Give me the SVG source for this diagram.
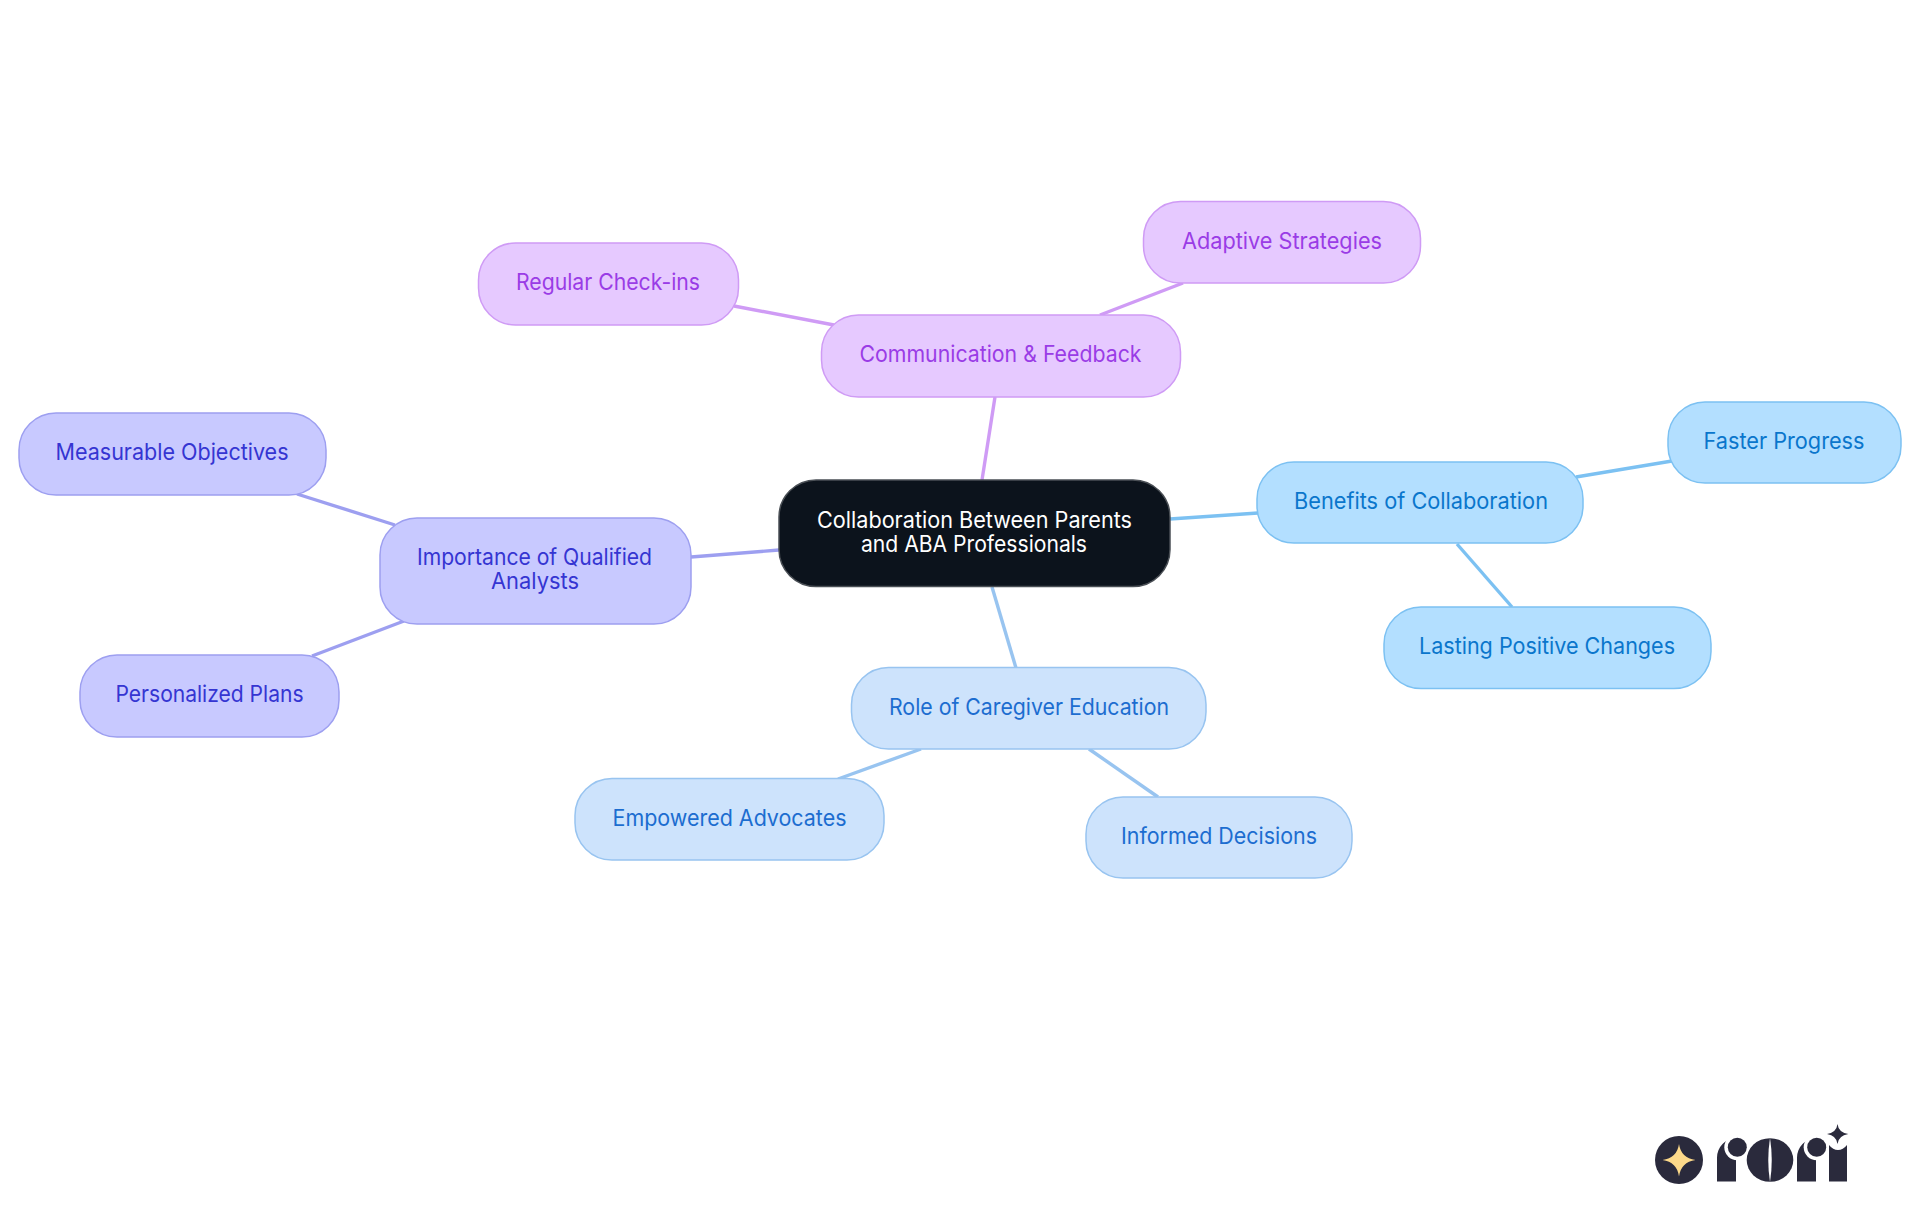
<svg xmlns="http://www.w3.org/2000/svg" width="1920" height="1215" viewBox="0 0 1920 1215">
<style>
text{font-family:"Inter","Noto Sans","Liberation Sans",sans-serif;font-size:22.4px;font-weight:400;text-anchor:middle}
rect{stroke-width:1.5}
#connectors line{stroke-width:3.4;fill:none}
.c rect{fill:#0c131c;stroke:#4a4f55}.c text{fill:#fff}
.p rect{fill:#e6c9ff;stroke:#cf9bf5}.p text{fill:#9a3ce6}
.b rect{fill:#b3dfff;stroke:#7cc1f2}.b text{fill:#0a76cc}
.i rect{fill:#c8c9ff;stroke:#9d9ff0}.i text{fill:#3535d2}
.r rect{fill:#cde3fc;stroke:#98c4f0}.r text{fill:#1c6dd0}
.lp{stroke:#cf9bf5}.lb{stroke:#7cc1f2}.li{stroke:#9d9ff0}.lr{stroke:#98c4f0}
.logo{fill:#2a2a3c}
</style>
<rect width="1920" height="1215" fill="#fff" stroke="none"/>
<g id="connectors">
<line class="lp" x1="982" y1="480" x2="995" y2="397"/>
<line class="lp" x1="1100" y1="315" x2="1183" y2="283"/>
<line class="lp" x1="834" y1="325" x2="734" y2="306"/>
<line class="lb" x1="1170" y1="519" x2="1258" y2="513"/>
<line class="lb" x1="1576" y1="477" x2="1672" y2="461"/>
<line class="lb" x1="1457" y1="544" x2="1512" y2="607"/>
<line class="li" x1="691" y1="557" x2="779" y2="550"/>
<line class="li" x1="395" y1="525" x2="297" y2="494"/>
<line class="li" x1="404" y1="621" x2="312" y2="656"/>
<line class="lr" x1="992" y1="587" x2="1016" y2="668"/>
<line class="lr" x1="921" y1="749" x2="838" y2="779"/>
<line class="lr" x1="1089" y1="749" x2="1158" y2="797"/>
</g>
<g id="n-central" class="c"><rect x="779" y="480" width="391" height="106.500" rx="37"/><text x="974.5" y="528" textLength="315" lengthAdjust="spacingAndGlyphs">Collaboration Between Parents</text><text x="974" y="552" textLength="226" lengthAdjust="spacingAndGlyphs">and ABA Professionals</text></g>
<g id="n-comm" class="p"><rect x="821.500" y="315" width="359" height="82" rx="37"/><text x="1000.5" y="362" textLength="282" lengthAdjust="spacingAndGlyphs">Communication &amp; Feedback</text></g>
<g id="n-regular" class="p"><rect x="478.500" y="243" width="260" height="82" rx="37"/><text x="608" y="290" textLength="184" lengthAdjust="spacingAndGlyphs">Regular Check-ins</text></g>
<g id="n-adaptive" class="p"><rect x="1143.500" y="201.500" width="277" height="81.500" rx="37"/><text x="1282" y="249" textLength="200" lengthAdjust="spacingAndGlyphs">Adaptive Strategies</text></g>
<g id="n-benefits" class="b"><rect x="1257" y="462" width="326" height="81" rx="37"/><text x="1421" y="509" textLength="254" lengthAdjust="spacingAndGlyphs">Benefits of Collaboration</text></g>
<g id="n-faster" class="b"><rect x="1668" y="402" width="233" height="81" rx="37"/><text x="1784" y="449" textLength="161" lengthAdjust="spacingAndGlyphs">Faster Progress</text></g>
<g id="n-lasting" class="b"><rect x="1384" y="607" width="327" height="81.500" rx="37"/><text x="1547" y="654" textLength="256" lengthAdjust="spacingAndGlyphs">Lasting Positive Changes</text></g>
<g id="n-importance" class="i"><rect x="380" y="518" width="311" height="106" rx="37"/><text x="534.5" y="565" textLength="235" lengthAdjust="spacingAndGlyphs">Importance of Qualified</text><text x="535" y="589" textLength="88" lengthAdjust="spacingAndGlyphs">Analysts</text></g>
<g id="n-measurable" class="i"><rect x="19" y="413" width="307" height="82" rx="37"/><text x="172" y="460" textLength="233" lengthAdjust="spacingAndGlyphs">Measurable Objectives</text></g>
<g id="n-personalized" class="i"><rect x="80" y="655" width="259" height="82" rx="37"/><text x="209.500" y="702" textLength="188" lengthAdjust="spacingAndGlyphs">Personalized Plans</text></g>
<g id="n-role" class="r"><rect x="851.500" y="667.500" width="354.500" height="81.500" rx="37"/><text x="1029" y="715" textLength="280" lengthAdjust="spacingAndGlyphs">Role of Caregiver Education</text></g>
<g id="n-empowered" class="r"><rect x="575" y="778.500" width="309" height="81.500" rx="37"/><text x="729.500" y="826" textLength="234" lengthAdjust="spacingAndGlyphs">Empowered Advocates</text></g>
<g id="n-informed" class="r"><rect x="1086" y="797" width="266" height="81" rx="37"/><text x="1219" y="844" textLength="196" lengthAdjust="spacingAndGlyphs">Informed Decisions</text></g>
<g id="logo">
<circle class="logo" cx="1679" cy="1160" r="24"/>
<path d="M1679 1144Q1681 1158 1695.500 1160Q1681 1162 1679 1176.500Q1677 1162 1662.500 1160Q1677 1158 1679 1144Z" fill="#fcd98a"/>
<path class="logo" d="M1717 1181.500V1157.500A19.500 19.500 0 0 1 1736 1138V1181.500Z"/>
<circle cx="1737.300" cy="1147.300" r="13" fill="#fff"/>
<circle class="logo" cx="1737.300" cy="1147.300" r="9.500"/>
<ellipse class="logo" cx="1770" cy="1160" rx="23.300" ry="21.800"/>
<path d="M1770 1138Q1773.500 1160 1770 1182Q1766.500 1160 1770 1138Z" fill="#fff"/>
<path class="logo" d="M1797 1181.500V1157.500A19.500 19.500 0 0 1 1816 1138V1181.500Z"/>
<circle cx="1816.700" cy="1147.300" r="13" fill="#fff"/>
<circle class="logo" cx="1816.700" cy="1147.300" r="9.500"/>
<path class="logo" d="M1829 1181.500V1145Q1833 1150 1838 1150Q1843 1150 1847 1145V1181.500Z"/>
<path class="logo" d="M1837.500 1124Q1838.500 1132.500 1848.300 1134Q1838.500 1135.500 1837.500 1144Q1836.500 1135.500 1827 1134Q1836.500 1132.500 1837.500 1124Z"/>
</g>
</svg>
